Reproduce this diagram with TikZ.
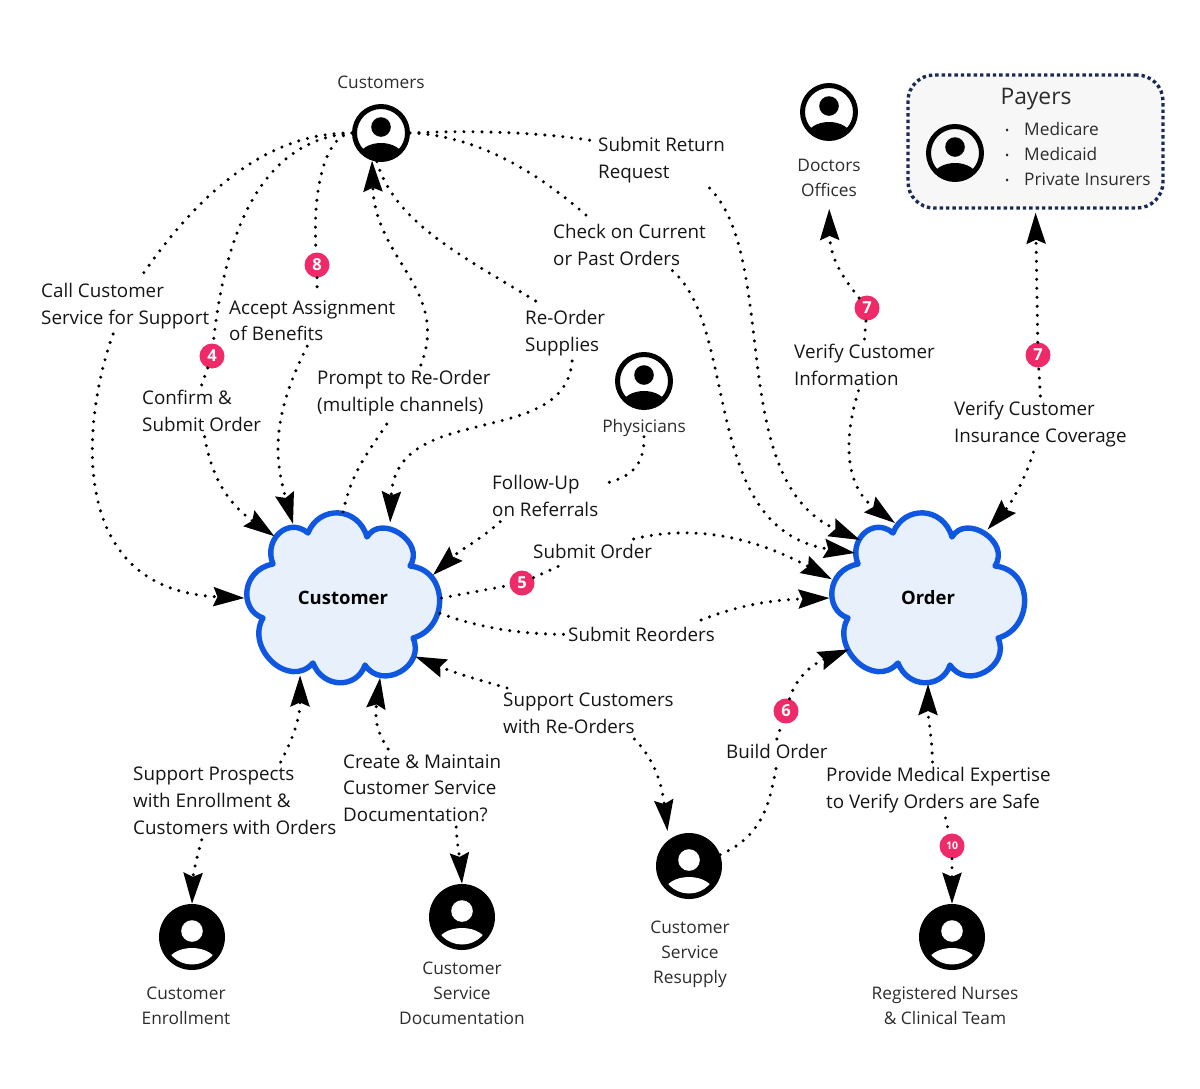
\documentclass[tikz,border=0pt]{standalone}
\usepackage{fontspec}
\setmainfont{Open Sans}
\usetikzlibrary{positioning, shapes.geometric, arrows.meta}
\definecolor{cloudblue}{HTML}{0F56E0}
\definecolor{cloudfill}{HTML}{E8F0FC}
\definecolor{badgepink}{HTML}{EE2A68}
\definecolor{payernavy}{HTML}{1B2A55}
\definecolor{payerfill}{HTML}{F7F7F7}
\definecolor{labelink}{HTML}{151515}
\tikzset{
	>={Stealth[length=31pt,width=19pt,inset=4pt]},
	node distance=8pt,
	flow/.style={line width=3.4pt, line cap=round, dash pattern=on 0pt off 9pt},
	lbl/.style={anchor=north west, align=left, inner xsep=0pt, inner ysep=5pt, text=labelink, font=\fontsize{18.8}{26.8}\selectfont},
	personcap/.style={align=center, inner sep=0pt, text=labelink!90, font=\fontsize{17.3}{25}\selectfont},
	badge/.style={circle, fill=badgepink, minimum size=25pt, inner sep=0pt, text=white, font=\fontsize{16.5}{16.5}\selectfont\bfseries},
	topic/.style={ellipse, minimum width=197pt, minimum height=172pt, inner sep=0pt, outer sep=0pt, font=\fontsize{18.5}{20}\selectfont\bfseries},
	cloudline/.style={draw=cloudblue, fill=cloudfill, line width=5.4pt, line join=round},
	person/.style={circle, draw=black, line width=5pt, minimum size=53pt, inner sep=0pt, path picture={
		\fill[black] ([yshift=6pt]path picture bounding box.center) circle[radius=9.8pt];
		\fill[black] ([yshift=-24pt]path picture bounding box.center) ellipse[x radius=22pt, y radius=14pt];
	}},
	staff/.style={circle, fill=black, minimum size=66pt, inner sep=0pt, path picture={
		\fill[white] ([yshift=6pt]path picture bounding box.center) circle[radius=10.8pt];
		\clip (path picture bounding box.center) circle[radius=27.5pt];
		\fill[white] ([yshift=-27pt]path picture bounding box.center) ellipse[x radius=25pt, y radius=16pt];
	}},
}
\newcommand{\cloudoutline}[1]{
	\draw[cloudline, shift={#1}] (-70,-34)
		.. controls (-80,-58) and (-55,-82) .. (-35,-65)
		.. controls (-24,-93) and (15,-92) .. (24,-61)
		.. controls (38,-85) and (83,-56) .. (67,-32)
		.. controls (106,-28) and (106,30) .. (70,40)
		.. controls (83,68) and (39,93) .. (22,67)
		.. controls (14,91) and (-20,91) .. (-30,65)
		.. controls (-54,92) and (-98,50) .. (-80,20)
		.. controls (-104,12) and (-102,-28) .. cycle;
}
\begin{document}
\begin{tikzpicture}[x=1pt, y=-1pt]
	\useasboundingbox (0,0) rectangle (1200,1088);

	%Clouds
	\cloudoutline{(343,598)}
	\cloudoutline{(928,598)}
	\node[topic] (customer) at (343,598) {Customer};
	\node[topic] (order) at (928,598) {Order};

	%People
	\node[person] (customers) at (381,133) {};
	\node[personcap] (customerscap) at (381,82) {Customers};
	\node[person] (doctors) at (829,112) {};
	\node[personcap, below=18pt of doctors.south] (doctorscap) {Doctors\\Offices};
	\node[person] (physicians) at (644,381) {};
	\node[personcap, below=9pt of physicians] (physicianscap) {Physicians};
	\node[staff] (enrollment) at (192,937) {};
	\node[personcap] (enrollmentcap) at (186,1006) {Customer\\Enrollment};
	\node[staff] (documentation) at (462,917) {};
	\node[personcap] (documentationcap) at (462,993) {Customer\\Service\\Documentation};
	\node[staff] (resupply) at (689,866) {};
	\node[personcap] (resupplycap) at (690,954) {Customer\\Service\\Resupply};
	\node[staff] (nurses) at (952,937) {};
	\node[personcap] (nursescap) at (945,1005.5) {Registered Nurses\\\& Clinical Team};

	%Payers
	\node[draw=payernavy, fill=payerfill, rounded corners=26pt, line width=3.4pt, dash pattern=on 3.4pt off 3pt, minimum width=255pt, minimum height=133pt, inner sep=0pt] (payers) at (1035.5,141.5) {};
	\node[person] (payer) at (955,153) {};
	\node[personcap, font=\fontsize{22.8}{25}\selectfont] (payerstitle) at (1036,99) {Payers};
	\node[personcap, align=left, anchor=north west] (payerlist) at (1004,122.5) {%
		\makebox[20pt][l]{\hspace{1pt}\raisebox{1pt}{\fontsize{11}{11}\selectfont\textbullet}}Medicare\\
		\makebox[20pt][l]{\hspace{1pt}\raisebox{1pt}{\fontsize{11}{11}\selectfont\textbullet}}Medicaid\\
		\makebox[20pt][l]{\hspace{1pt}\raisebox{1pt}{\fontsize{11}{11}\selectfont\textbullet}}Private Insurers};

	%Labels
	\node[lbl] (callsupport) at (41,278) {Call Customer\\Service for Support};
	\node[lbl] (accept) at (229,295) {Accept Assignment\\of Benefits};
	\node[lbl] (confirm) at (142,385) {Confirm \&\\Submit Order};
	\node[lbl] (prompt) at (317,365) {Prompt to Re-Order\\(multiple channels)};
	\node[lbl] (reorder) at (525,305) {Re-Order\\Supplies};
	\node[lbl] (returnreq) at (598,132) {Submit Return\\Request};
	\node[lbl] (check) at (553,219) {Check on Current\\or Past Orders};
	\node[lbl] (followup) at (492,470) {Follow-Up\\on Referrals};
	\node[lbl] (submitorder) at (533,539) {Submit Order};
	\node[lbl] (submitre) at (568,622) {Submit Reorders};
	\node[lbl] (supportre) at (503,688) {Support Customers\\with Re-Orders};
	\node[lbl] (build) at (726,739) {Build Order};
	\node[lbl] (provide) at (826,762) {Provide Medical Expertise\\to Verify Orders are Safe};
	\node[lbl] (verifycust) at (794,339) {Verify Customer\\Information};
	\node[lbl] (verifyins) at (954,396) {Verify Customer\\Insurance Coverage};
	\node[lbl] (prospects) at (133,762) {Support Prospects\\with Enrollment \&\\Customers with Orders};
	\node[lbl] (maintain) at (343,749) {Create \& Maintain\\Customer Service\\Documentation?};

	%Badges
	\node[badge] (b4) at (212,356) {4};
	\node[badge] (b8) at (317,265) {8};
	\node[badge] (b5) at (522,583) {5};
	\node[badge] (b6) at (786,711) {6};
	\node[badge] (b7a) at (867,308) {7};
	\node[badge] (b7b) at (1038,355) {7};
	\node[badge, font=\fontsize{10.5}{10.5}\selectfont\bfseries] (b10) at (952,846) {10};

	%Customers, going out
	\draw[flow] (customers.180) .. controls (260,132) and (190,205) .. ([xshift=15pt]callsupport.north);
	\draw[flow,->] ([xshift=-12pt]callsupport.south) .. controls (85,410) and (60,590) .. (customer.180);
	\draw[flow] (customers.180) .. controls (262,140) and (225,230) .. (b4);
	\draw[flow] (b4) -- (confirm.north);
	\draw[flow,->] ([xshift=3pt]confirm.south) .. controls (212,480) and (230,505) .. (customer.138);
	\draw[flow] (customers.180) .. controls (325,135) and (312,190) .. (b8);
	\draw[flow] (b8) -- ([xshift=5pt]accept.north);
	\draw[flow,->] ([xshift=-5pt]accept.south) .. controls (270,420) and (275,460) .. (customer.124);
	\draw[flow] (customer.90) .. controls (352,470) and (370,450) .. ([xshift=-15pt]prompt.south);
	\draw[flow,->] ([xshift=17pt]prompt.north) .. controls (450,290) and (375,260) .. (customers.252);
	\draw[flow] (customers.262) .. controls (395,225) and (470,260) .. ([xshift=-23pt]reorder.north);
	\draw[flow,->] ([xshift=7pt]reorder.south) .. controls (565,450) and (395,400) .. (customer.58);
	\draw[flow] (customers.0) .. controls (470,135) and (530,165) .. ([xshift=-39pt]check.north);
	\draw[flow,->] ([xshift=43pt]check.south) .. controls (740,330) and (700,530) .. ([shift={(-73,-45)}]order.center);
	\draw[flow] (customers.0) .. controls (470,130) and (540,132) .. ([xshift=-3pt,yshift=-9pt]returnreq.north west);
	\draw[flow,->] ([xshift=48pt]returnreq.south) .. controls (780,260) and (725,480) .. ([shift={(-68,-58)}]order.center);

	%Physicians
	\draw[flow] (physicianscap.south) .. controls (645,470) and (625,478) .. ([xshift=8pt,yshift=-13pt]followup.north east);
	\draw[flow,->] ([xshift=-45pt]followup.south) .. controls (480,540) and (460,550) .. ([shift={(90,-23)}]customer.center);

	%Submit
	\draw[flow] (customer.0) -- (b5);
	\draw[flow] (b5) -- ([xshift=-29pt]submitorder.south);
	\draw[flow,->] ([xshift=41pt]submitorder.north) .. controls (690,525) and (750,535) .. (order.169);
	\draw[flow] (customer.-9) .. controls (480,628) and (520,634) .. ([xshift=-4pt]submitre.west);
	\draw[flow,->] ([xshift=-14pt,yshift=2pt]submitre.north east) .. controls (740,605) and (770,600) .. (order.180);

	%Support
	\draw[flow,->] ([xshift=4pt]supportre.north west) .. controls (480,680) and (460,675) .. (customer.-39);
	\draw[flow,->, shorten >=9pt] ([xshift=46pt]supportre.south) .. controls (655,760) and (662,785) .. (resupply.128);
	\draw[flow] (resupply.20) .. controls (765,835) and (770,800) .. (build.south);
	\draw[flow] (build.north) -- (b6);
	\draw[flow,->] (b6) .. controls (795,680) and (810,665) .. (order.-147);
	\draw[flow,->] ([xshift=-6pt]provide.north) .. controls (932,735) and (928,720) .. (order.-90);
	\draw[flow] ([xshift=7pt]provide.south) -- (b10);
	\draw[flow,->] (b10) -- (nurses.north);

	%Verify
	\draw[flow,->] ([xshift=-6pt]verifycust.south) .. controls (840,450) and (850,490) .. ([shift={(-33,-75)}]order.center);
	\draw[flow] (verifycust.north) -- (b7a);
	\draw[flow,->, shorten >=12pt] (b7a) .. controls (845,280) and (830,260) .. (doctorscap.south);
	\draw[flow,->] ([xshift=-7pt]verifyins.south) .. controls (1025,480) and (1010,505) .. (order.49);
	\draw[flow] (verifyins.north) -- (b7b);
	\draw[flow,->, shorten >=3pt] (b7b) -- (payers.south);

	%Bottom left
	\draw[flow,->] ([xshift=46pt]prospects.north) .. controls (292,740) and (300,720) .. (customer.-119);
	\draw[flow,->] ([xshift=-33pt]prospects.south) .. controls (196,860) and (193,875) .. (enrollment.north);
	\draw[flow,->] ([xshift=-34pt]maintain.north) .. controls (375,730) and (375,715) .. (customer.-65);
	\draw[flow,->] ([xshift=34pt]maintain.south) .. controls (457,845) and (460,860) .. (documentation.north);
\end{tikzpicture}
\end{document}
